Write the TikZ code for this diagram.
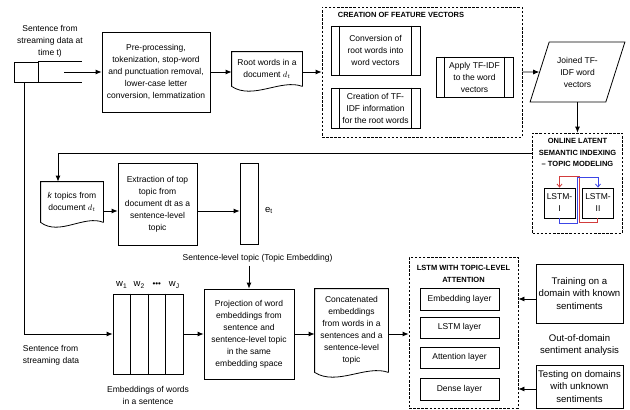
\documentclass[tikz,border=0pt]{standalone}
\usepackage{fontspec}
\setmainfont{Liberation Sans}
\usepackage{tikz}
\usetikzlibrary{arrows.meta,calc,shapes.geometric}
\tikzset{node distance=100pt}
\usetikzlibrary{positioning}
\tikzset{
	blk/.style={draw, align=center, inner sep=1pt},
	docnode/.style={align=center, inner sep=1pt},
	grp/.style={draw, dash pattern=on 2.5pt off 1.6pt},
	grptitle/.style={font=\fontsize{7.5}{11.5}\selectfont\bfseries, align=center},
	bigtxt/.style={font=\fontsize{9.6}{12.8}\selectfont, align=center}
}
\definecolor{loopred}{RGB}{210,60,60}
\definecolor{loopblue}{RGB}{60,70,230}

\begin{document}
\begin{tikzpicture}[node distance=100pt, line width=0.8pt, font=\fontsize{8.5}{12}\selectfont, >={Latex[length=6pt,width=5pt]}]
			\useasboundingbox (0,0) rectangle (630pt,-410pt);
			\node (pre) 		[blk, minimum width=108pt, minimum height=80pt] at (156pt,-72pt)	{Pre-processing,\\tokenization, stop-word\\and punctuation removal,\\lower-case letter\\conversion, lemmatization};
			\node (store) 	[draw, left of=pre, xshift=-30pt, minimum width=24pt, minimum height=20pt]	{};
			\node (srctxt) 	[above=1pt of store, xshift=24pt, align=center]		{Sentence from\\streaming data at\\time t)};
			\node (srcout) 	[coordinate, right of=store, xshift=-62pt]	{};
			\node (rw) 			[docnode, right of=pre, xshift=11pt, yshift=3pt, minimum width=70pt, minimum height=34pt]	{Root words in a\\document $d_t$};
			\node (feat) 		[grp, right of=rw, xshift=55pt, yshift=-3pt, minimum width=200pt, minimum height=130pt]	{};
			\node (feattitle)	[grptitle, above of=feat, xshift=-21pt, yshift=-43pt]	{CREATION OF FEATURE VECTORS};
			\node (conv) 		[blk, left of=feat, xshift=53.5pt, yshift=21.5pt, minimum width=89pt, minimum height=49pt]	{Conversion of\\root words into\\word vectors};
			\node (tfinfo) 	[blk, below of=conv, yshift=42.5pt, minimum width=89pt, minimum height=40pt]	{Creation of TF-\\IDF information\\for the root words};
			\node (apply) 	[blk, right of=conv, xshift=-1pt, yshift=-26.5pt, minimum width=77pt, minimum height=40pt]	{Apply TF-IDF\\to the word\\vectors};
			\node (joined) 	[blk, trapezium, trapezium left angle=66, trapezium right angle=114, trapezium stretches=true, minimum width=95pt, minimum height=60pt, right of=apply, xshift=3pt, yshift=5pt]	{Joined TF-\\IDF word\\vectors};
			\node (olsi) 		[grp, below of=joined, yshift=-11pt, minimum width=90pt, minimum height=100pt]	{};
			\node (olsititle)	[grptitle, above of=olsi, yshift=-69.5pt]	{ONLINE LATENT\\SEMANTIC INDEXING\\-- TOPIC MODELING};
			\node (lstmone) [blk, below of=olsi, xshift=-18pt, yshift=80pt, minimum width=31pt, minimum height=30pt]	{LSTM-\\I};
			\node (lstmtwo) [blk, right of=lstmone, xshift=-61.5pt, minimum width=31pt, minimum height=30pt]	{LSTM-\\II};
			\node (extr) 		[blk, below of=pre, xshift=1.5pt, yshift=-32pt, minimum width=79pt, minimum height=82pt]	{Extraction of top\\topic from\\document dt as a\\sentence-level\\topic};
			\node (ktop) 		[docnode, left of=extr, xshift=14.5pt, yshift=2pt, minimum width=62pt, minimum height=40pt]	{\textit{k} topics from\\document $d_t$};
			\node (et) 			[draw, right of=extr, xshift=-8.5pt, yshift=0.5pt, minimum width=18pt, minimum height=81pt]	{};
			\node (etlbl) 	[right=3pt of et, yshift=-7pt, font=\fontsize{9.5}{12}\selectfont]	{e\textsubscript{t}};
			\node (stl) 		[below of=et, xshift=8.5pt, yshift=45.5pt]	{Sentence-level topic (Topic Embedding)};
			\node (proj) 		[blk, below of=et, yshift=-30.5pt, minimum width=90pt, minimum height=90pt]	{Projection of word\\embeddings from\\sentence and\\sentence-level topic\\in the same\\embedding space};
			\node (emb) 		[draw, left of=proj, xshift=-1pt, minimum width=70pt, minimum height=80pt]	{};
			\node (wlbl) 		[above of=emb, yshift=-51pt, inner sep=0pt, font=\fontsize{9.5}{12}\selectfont]	{\makebox[17.5pt]{w\textsubscript{1}}\makebox[17.5pt]{w\textsubscript{2}}\makebox[17.5pt]{\fontsize{8}{8}\selectfont\textbullet\textbullet\textbullet}\makebox[17.5pt]{w\textsubscript{J}}};
			\node (embcap) 	[below of=emb, yshift=39pt, align=center]	{Embeddings of words\\in a sentence};
			\node (sfs) 		[left of=emb, xshift=3pt, yshift=-21pt, align=left]	{Sentence from\\streaming data};
			\node (concat) 	[docnode, right of=proj, xshift=2.5pt, yshift=3.5pt, minimum width=73pt, minimum height=83pt]	{Concatenated\\embeddings\\from words in a\\sentences and a\\sentence-level\\topic};
			\node (lstmatt)	[grp, right of=concat, xshift=12pt, yshift=-2pt, minimum width=109pt, minimum height=151pt]	{};
			\node (atttitle)	[grptitle, above of=lstmatt, yshift=-41.5pt]	{LSTM WITH TOPIC-LEVEL\\ATTENTION};
			\node (embl) 		[blk, above of=lstmatt, xshift=-4pt, yshift=-66.5pt, minimum width=79pt, minimum height=22pt]	{Embedding layer};
			\node (lstml) 	[blk, below of=embl, yshift=71.5pt, minimum width=79pt, minimum height=21pt]	{LSTM layer};
			\node (attl) 		[blk, below of=lstml, yshift=70pt, minimum width=79pt, minimum height=21pt]	{Attention layer};
			\node (densel) 	[blk, below of=attl, yshift=68.5pt, minimum width=79pt, minimum height=22pt]	{Dense layer};
			\node (train) 	[blk, bigtxt, right of=embl, xshift=20pt, yshift=5.5pt, minimum width=87pt, minimum height=59pt]	{Training on a\\domain with known\\sentiments};
			\node (ood) 		[bigtxt, below of=train, yshift=48.5pt]	{Out-of-domain\\sentiment analysis};
			\node (test) 		[blk, bigtxt, below of=train, yshift=7pt, minimum width=87pt, minimum height=43pt]	{Testing on domains\\with unknown\\sentiments};
			%
			\draw (store.north east) -- ++(44pt,0);
			\draw (store.south east) -- ++(44pt,0);
			\foreach \d in {rw,ktop,concat}
				\draw (\d.south east) -- (\d.north east) -- (\d.north west) -- (\d.south west)
					.. controls ($(\d.south west)!0.3!(\d.south east)+(0,-14pt)$) and ($(\d.south west)!0.7!(\d.south east)+(0,8pt)$) .. (\d.south east);
			\foreach \p in {conv,tfinfo,apply} {
				\draw ([xshift=9pt]\p.north west) -- ([xshift=9pt]\p.south west);
				\draw ([xshift=-9pt]\p.north east) -- ([xshift=-9pt]\p.south east);
			}
			\foreach \f in {0.25,0.5,0.75}
				\draw ($(emb.north west)!\f!(emb.north east)$) -- ($(emb.south west)!\f!(emb.south east)$);
			%
			\draw[->]	(srcout)	--	(srcout -| pre.west);
			\draw[->]	(pre.east)	--	(pre.east -| rw.west);
			\draw[->]	(rw.east |- pre)	--	(feat.west |- pre);
			\draw[->]	(feat.east)	--	(joined.west);
			\draw[->]	(joined.south -| olsi.north)	--	(olsi.north);
			\draw[->]	([yshift=30pt]olsi.west)	-|	([xshift=-14pt]ktop.north);
			\draw[->]	([yshift=-9pt]ktop.east)	--	([yshift=-9pt]ktop.east -| extr.west);
			\draw[->]	([yshift=-7pt]extr.east)	--	([yshift=-7pt]extr.east -| et.west);
			\draw[->]	(stl.south -| proj.north)	--	(proj.north);
			\draw[->]	([xshift=-2pt]store.south)	|-	(emb.west);
			\draw[->]	(emb)	--	(proj);
			\draw[->]	(proj.east)	--	(proj.east -| concat.west);
			\draw[->]	(concat.east |- proj)	--	(lstmatt.west |- proj);
			\draw[->]	(train.west |- embl)	--	(embl -| lstmatt.east);
			\draw[->]	(test.west |- densel)	--	(densel -| lstmatt.east);
			\draw[loopred, -{Straight Barb[length=3pt,width=5pt]}]	([xshift=-1pt]lstmtwo.south) -- ++(0,-4pt) -| ([xshift=-3pt,yshift=11pt]lstmtwo.north west) -| (lstmone.north);
			\draw[loopblue, -{Straight Barb[length=3pt,width=5pt]}]	(lstmone.south) -- ++(0,-5pt) -| ([xshift=2pt,yshift=10pt]lstmone.north east) -| (lstmtwo.north);
		\end{tikzpicture}
\end{document}
